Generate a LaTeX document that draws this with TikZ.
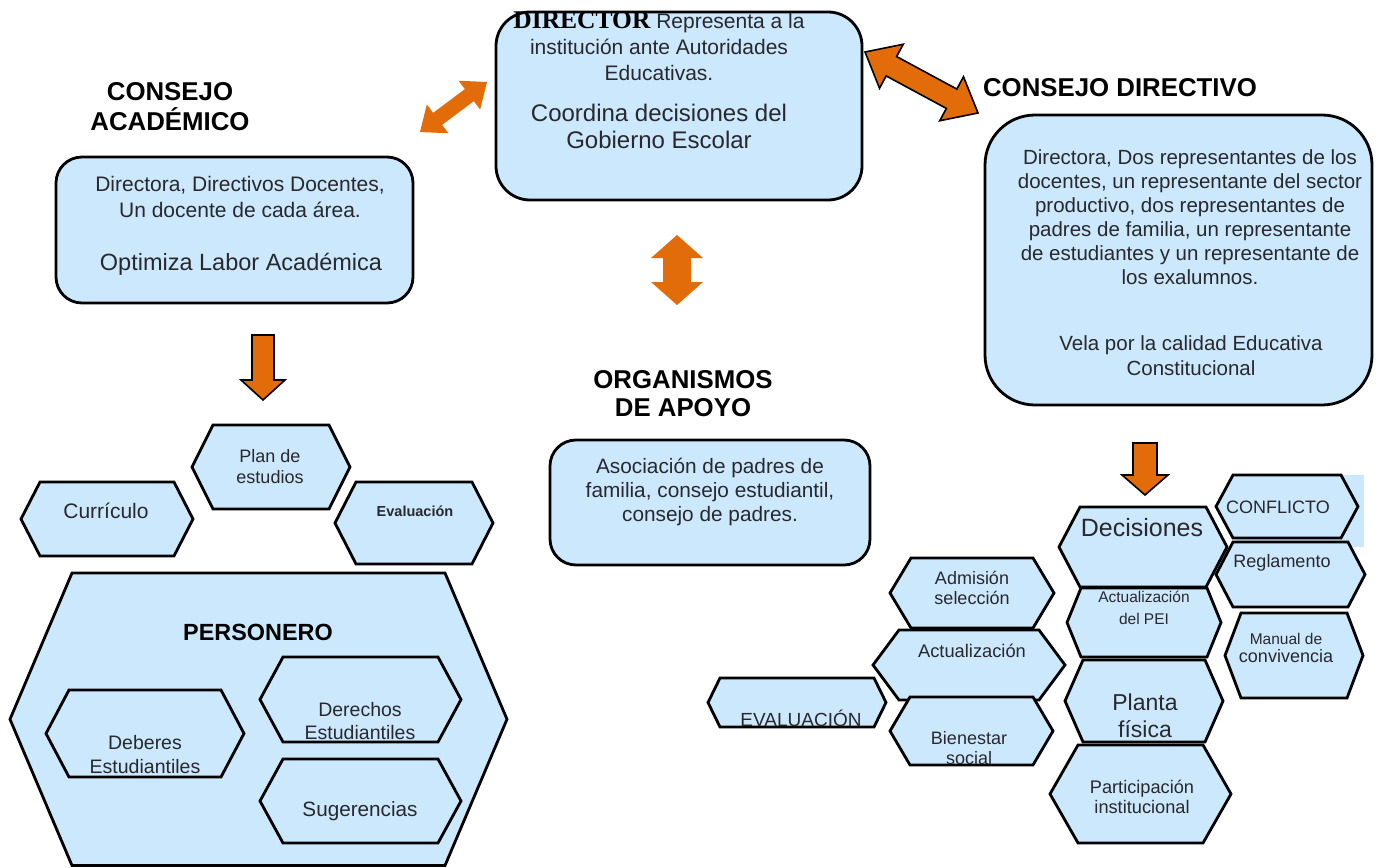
\documentclass[tikz,border=0pt]{standalone}
\usepackage{fontspec}
\setmainfont{Liberation Sans}
\newfontfamily\serifbold{Liberation Serif}[BoldFont=* Bold]
\usetikzlibrary{calc}
\definecolor{boxblue}{RGB}{204,232,253}
\definecolor{arrorange}{RGB}{227,108,10}
\definecolor{txtgray}{RGB}{40,40,45}
\newcommand\fs[2]{\fontsize{#1}{#2}\selectfont}
\newcommand\hexagon[5]{%
  \filldraw[hexs] (#1,{(#3+#4)/2}) -- ({#1+#5},#3) -- ({#2-#5},#3) -- (#2,{(#3+#4)/2}) -- ({#2-#5},#4) -- ({#1+#5},#4) -- cycle;}
\newcommand\dblarrow[6]{%
  \path ($(#1)!#3!(#2)$) coordinate (tmpC) ($(#2)!#3!(#1)$) coordinate (tmpD);
  \filldraw[#6] (#1) -- ($(tmpC)!#4!90:(#2)$) -- ($(tmpC)!#5!90:(#2)$) -- ($(tmpD)!#5!-90:(#1)$) -- ($(tmpD)!#4!-90:(#1)$) -- (#2) -- ($(tmpD)!#4!90:(#1)$) -- ($(tmpD)!#5!90:(#1)$) -- ($(tmpC)!#5!-90:(#2)$) -- ($(tmpC)!#4!-90:(#2)$) -- cycle;}
\tikzset{
  rbox/.style={draw=black, fill=boxblue, line width=2.8pt, inner sep=0pt},
  hexs/.style={draw=black, fill=boxblue, line width=2.8pt, line join=miter},
  txt/.style={inner sep=0pt, align=center, text=txtgray},
  ttl/.style={inner sep=0pt, align=center, text=black, font=\bfseries\fs{25.8}{30}},
  arrfill/.style={fill=arrorange, draw=none},
  arrline/.style={fill=arrorange, draw=black, line width=1.6pt, line join=miter},
}
\begin{document}
\begin{tikzpicture}[x=1pt,y=-1pt]
\useasboundingbox (0,0) rectangle (1386,867);

% ---------- Director ----------
\node[rbox, rounded corners=34pt, minimum width=366pt, minimum height=188pt] (director) at (679,106) {};
\node[txt, font=\fs{21}{26}] (dir1) at (659,46) {{\serifbold\bfseries\color{black}\fs{25.5}{26}DIRECTOR} Representa a la\\institución ante Autoridades\\Educativas.};
\node[txt, font=\fs{24}{27}] (dir2) at (659,126) {Coordina decisiones del\\Gobierno Escolar};

% ---------- Consejo academico ----------
\node[ttl] (tacad) at (170,107) {CONSEJO\\ACADÉMICO};
\node[rbox, rounded corners=26pt, minimum width=357pt, minimum height=146pt] (acad) at (234.5,230) {};
\node[txt, font=\fs{21}{26}] (acad1) at (240,197) {Directora, Directivos Docentes,\\Un docente de cada área.};
\node[txt, font=\fs{23.5}{26}] (acad2) at (241,264) {Optimiza Labor Académica};

% ---------- Consejo directivo ----------
\node[ttl] (tcd) at (1120,88) {CONSEJO DIRECTIVO};
\node[rbox, rounded corners=50pt, minimum width=387pt, minimum height=290pt] (cd) at (1178.5,260) {};
\node[txt, font=\fs{20.5}{24}] (cd1) at (1190,217) {Directora, Dos representantes de los\\docentes, un representante del sector\\productivo, dos representantes de\\padres de familia, un representante\\de estudiantes y un representante de\\los exalumnos.};
\node[txt, font=\fs{20.5}{25}] (cd2) at (1191,356) {Vela por la calidad Educativa\\Constitucional};

% ---------- Organismos de apoyo ----------
\node[ttl, font=\bfseries\fs{25.8}{28}] (torg) at (683,394) {ORGANISMOS\\DE APOYO};
\node[rbox, rounded corners=26pt, minimum width=320pt, minimum height=125pt] (org) at (710,502.5) {};
\node[txt, font=\fs{20.8}{24}] (org1) at (710,492) {Asociación de padres de\\familia, consejo estudiantil,\\consejo de padres.};

% ---------- Orange arrows ----------
\coordinate (la1) at (420,132); \coordinate (la2) at (487,82);
\dblarrow{la1}{la2}{22pt}{18pt}{7.5pt}{arrfill}
\coordinate (ra1) at (865,52); \coordinate (ra2) at (978,113);
\dblarrow{ra1}{ra2}{30pt}{25pt}{11pt}{arrline}
\coordinate (va1) at (677,235); \coordinate (va2) at (677,305);
\dblarrow{va1}{va2}{23pt}{26pt}{14pt}{arrfill}
% single down arrows
\coordinate (lda) at (263,400);
\filldraw[arrline] (252,335) -- (274,335) -- (274,380) -- (285,380) -- (lda) -- (241,380) -- (252,380) -- cycle;
\coordinate (rda) at (1145,495);
\filldraw[arrline] (1133,443) -- (1157,443) -- (1157,475) -- (1168,475) -- (rda) -- (1122,475) -- (1133,475) -- cycle;

% ---------- Left hexagon cluster ----------
\hexagon{192}{350}{425}{509}{21}
\node[txt, font=\fs{18}{21}] (plan) at (270,467) {Plan de\\estudios};
\hexagon{21}{193}{482}{556}{19}
\node[txt, font=\fs{21}{24}] (curr) at (106,511) {Currículo};
\hexagon{335}{493}{482}{564}{21}
\node[txt, font=\bfseries\fs{14.5}{16}] (evall) at (415,511) {Evaluación};
\hexagon{10}{507}{573}{865.5}{62}
\node[ttl, font=\bfseries\fs{23.4}{26}] (pers) at (258,632) {PERSONERO};
\hexagon{46}{244}{690}{777}{23}
\node[txt, font=\fs{19.5}{24}] (deb) at (145,755) {Deberes\\Estudiantiles};
\hexagon{260}{461}{657}{742}{23}
\node[txt, font=\fs{19.5}{23}] (der) at (360,721) {Derechos\\Estudiantiles};
\hexagon{260}{461}{759}{843}{23}
\node[txt, font=\fs{20.7}{24}] (sug) at (360,811) {Sugerencias};

% ---------- Right hexagon cluster ----------
\fill[boxblue] (1236,475) rectangle (1364,547);
\hexagon{1216}{1358}{475}{538}{17}
\node[txt, font=\fs{18}{22}] (confl) at (1278,507) {CONFLICTO};
\hexagon{1216}{1365}{542}{607}{17}
\node[txt, font=\fs{18}{21}] (regl) at (1282,563) {Reglamento};
\hexagon{1225}{1363}{613}{698}{16}
\node[txt, font=\fs{18}{18}] (manual) at (1286,648) {{\fs{15.5}{18}Manual de}\\convivencia};
\hexagon{1059}{1227}{507}{587}{21}
\node[txt, font=\fs{25}{30}] (dec) at (1142,528) {Decisiones};
\hexagon{1067}{1221}{588}{657}{14}
\node[txt, font=\fs{15.5}{22}] (pei) at (1144,608) {Actualización\\del PEI};
\hexagon{1065}{1223}{660}{742}{18}
\node[txt, font=\fs{23}{27}] (planta) at (1145,716) {Planta\\física};
\hexagon{1050}{1231}{745}{843}{28}
\node[txt, font=\fs{18.2}{20}] (part) at (1142,797) {Participación\\institucional};
\hexagon{890}{1054}{558}{628}{21}
\node[txt, font=\fs{18}{19.5}] (adm) at (972,588) {Admisión\\selección};
\hexagon{873}{1065}{630}{700}{26}
\node[txt, font=\fs{18.3}{21}] (actu) at (972,651) {Actualización};
\hexagon{890}{1053}{697}{765}{20}
\node[txt, font=\fs{18}{20}] (bien) at (969,748) {Bienestar\\social};
\hexagon{708}{886}{678}{727}{12}
\node[txt, font=\fs{19}{22}] (evalr) at (801,718) {EVALUACIÓN};
\end{tikzpicture}
\end{document}
